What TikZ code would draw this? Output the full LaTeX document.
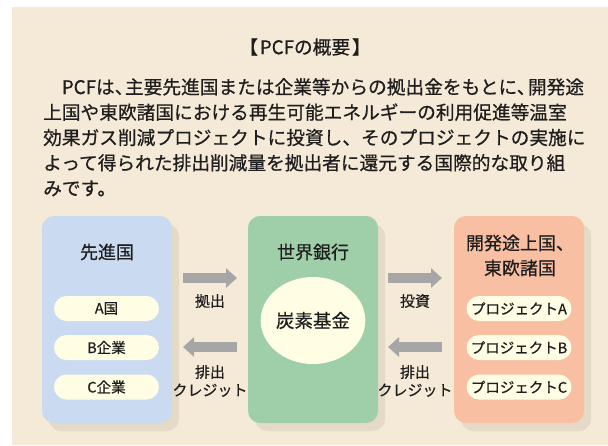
\documentclass[tikz,border=0pt]{standalone}
\usepackage{fontspec}
\setmainfont{Noto Sans CJK JP}[FakeBold=0.6]
\usetikzlibrary{shapes.geometric,shadows,arrows.meta}
\definecolor{bgc}{HTML}{F5EAD8}
\definecolor{bluec}{HTML}{CADAF0}
\definecolor{greenc}{HTML}{9FCFA9}
\definecolor{orangec}{HTML}{F8BFA2}
\definecolor{pillc}{HTML}{FFFDE3}
\definecolor{shadc}{HTML}{E4DAC7}
\definecolor{arrc}{HTML}{A6A6A6}
\definecolor{txtc}{HTML}{1E1E1E}
\tikzset{
  bigbox/.style={rectangle, rounded corners=12pt, minimum width=130pt, minimum height=207pt, inner sep=0pt,
    drop shadow={shadow xshift=7pt, shadow yshift=-8pt, fill=shadc, opacity=1}},
  pill/.style={rectangle, rounded corners=12.5pt, fill=pillc, minimum width=105pt, minimum height=25pt,
    inner sep=0pt, font=\fontsize{14.5pt}{16pt}\selectfont, text=txtc},
  boxtitle/.style={font=\fontsize{18pt}{25pt}\selectfont, text=txtc, align=center, inner sep=0pt},
  arrlabel/.style={font=\fontsize{15pt}{18pt}\selectfont, text=txtc, align=center, inner sep=0pt},
  paraline/.style={anchor=base west, inner sep=0pt, font=\fontsize{18.7pt}{25pt}\selectfont, text=txtc},
  fatarrow/.style={draw=arrc, line width=10pt, -{Triangle[length=11pt,width=19pt]}, shorten >=0pt}
}
\begin{document}
\begin{tikzpicture}[x=1pt,y=-1pt]
\useasboundingbox (0,0) rectangle (608,445);
\fill[white] (0,0) rectangle (608,445);
\fill[bgc] (12,7) rectangle (608,445);

\node[boxtitle, font=\fontsize{18.7pt}{25pt}\selectfont] (title) at (305,47) {【\hspace{0.1em}PCFの概要\hspace{0.1em}】};

\node[paraline] (l1) at (43,94) {\hspace{1em}PCFは、\hspace{-0.45em}主要先進国または企業等からの拠出金をもとに、\hspace{-0.4em}開発途};
\node[paraline] (l2) at (43,119.3) {上国や東欧諸国における再生可能エネルギーの利用促進等温室};
\node[paraline] (l3) at (43,144.6) {効果ガス削減プロジェクトに投資し、そのプロジェクトの実施に};
\node[paraline] (l4) at (43,169.9) {よって得られた排出削減量を拠出者に還元する国際的な取り組};
\node[paraline] (l5) at (43,195.2) {みです。};

% big boxes
\node[bigbox, fill=bluec] (dev) at (107,319.5) {};
\node[bigbox, fill=greenc] (wb) at (313,319.5) {};
\node[bigbox, fill=orangec] (dvg) at (519,319.5) {};

\node[boxtitle] (devt) at (107,252) {先進国};
\node[boxtitle] (wbt) at (313,252) {世界銀行};
\node[boxtitle] (dvgt) at (520,255.5) {開発途上国、\\東欧諸国};

\node[pill] (pa) at (106.5,308.5) {A国};
\node[pill] (pb) at (106.5,347.5) {B企業};
\node[pill] (pc) at (106.5,387) {C企業};

\node[ellipse, fill=pillc, minimum width=102pt, minimum height=87pt, inner sep=0pt,
  font=\fontsize{18.5pt}{20pt}\selectfont, text=txtc] (fund) at (313,320.5) {炭素基金};

\node[pill] (qa) at (519,308.5) {プロジェクトA};
\node[pill] (qb) at (519,347.5) {プロジェクトB};
\node[pill] (qc) at (519,387) {プロジェクトC};

% arrows
\coordinate (a1s) at (183,278);
\coordinate (a1e) at (237,278);
\coordinate (a2s) at (237,347);
\coordinate (a2e) at (183,347);
\coordinate (a3s) at (388,278);
\coordinate (a3e) at (442,278);
\coordinate (a4s) at (442,347);
\coordinate (a4e) at (388,347);
\draw[fatarrow] (a1s) -- (a1e);
\draw[fatarrow] (a2s) -- (a2e);
\draw[fatarrow] (a3s) -- (a3e);
\draw[fatarrow] (a4s) -- (a4e);

\node[arrlabel] (lab1) at (210,301) {拠出};
\node[arrlabel] (lab2) at (210,381) {排出\\クレジット};
\node[arrlabel] (lab3) at (415,301) {投資};
\node[arrlabel] (lab4) at (415,381) {排出\\クレジット};
\end{tikzpicture}
\end{document}
